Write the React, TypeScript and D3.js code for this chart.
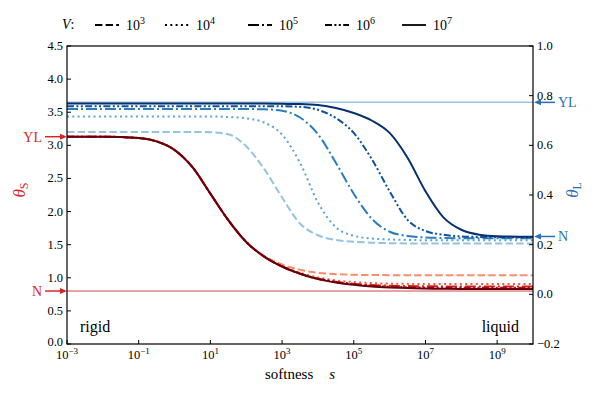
import * as d3 from 'd3'

// softness grid, as exponents of 10
const logS = [-3, -2, -1, -0.5, 0, 0.5, 1, 1.5, 2, 2.5, 3, 3.5, 4, 4.5, 5, 5.5, 6, 6.5, 7, 7.5, 8, 8.5, 9, 10]

const volumes = ['3', '4', '5', '6', '7']

// theta_S (left axis), one array per V
const thetaS_1e3 = [3.13, 3.13, 3.11, 3.06, 2.93, 2.67, 2.27, 1.87, 1.54, 1.33, 1.2, 1.12, 1.075, 1.055, 1.045, 1.042, 1.04, 1.04, 1.04, 1.04, 1.04, 1.04, 1.04, 1.04]
const thetaS_1e4 = [3.13, 3.13, 3.11, 3.06, 2.93, 2.67, 2.27, 1.87, 1.54, 1.32, 1.175, 1.075, 1.005, 0.96, 0.935, 0.92, 0.912, 0.908, 0.906, 0.905, 0.905, 0.905, 0.905, 0.905]
const thetaS_1e5 = [3.13, 3.13, 3.11, 3.06, 2.93, 2.67, 2.27, 1.87, 1.54, 1.32, 1.17, 1.065, 0.99, 0.94, 0.91, 0.89, 0.88, 0.875, 0.872, 0.87, 0.87, 0.87, 0.87, 0.87]
const thetaS_1e6 = [3.13, 3.13, 3.11, 3.06, 2.93, 2.67, 2.27, 1.87, 1.54, 1.32, 1.17, 1.06, 0.985, 0.935, 0.9, 0.88, 0.865, 0.857, 0.852, 0.85, 0.85, 0.85, 0.85, 0.85]
const thetaS_1e7 = [3.13, 3.13, 3.11, 3.06, 2.93, 2.67, 2.27, 1.87, 1.54, 1.32, 1.17, 1.06, 0.98, 0.93, 0.895, 0.87, 0.855, 0.845, 0.838, 0.834, 0.832, 0.83, 0.83, 0.83]

// theta_L (right axis)
const thetaL_1e3 = [0.654, 0.654, 0.654, 0.654, 0.654, 0.654, 0.653, 0.645, 0.596, 0.505, 0.39, 0.285, 0.238, 0.219, 0.212, 0.208, 0.206, 0.205, 0.205, 0.205, 0.205, 0.205, 0.205, 0.205]
const thetaL_1e4 = [0.716, 0.716, 0.716, 0.716, 0.716, 0.716, 0.716, 0.714, 0.709, 0.692, 0.643, 0.53, 0.37, 0.27, 0.236, 0.225, 0.221, 0.219, 0.218, 0.218, 0.218, 0.218, 0.218, 0.218]
const thetaL_1e5 = [0.746, 0.746, 0.746, 0.746, 0.746, 0.746, 0.746, 0.746, 0.746, 0.745, 0.739, 0.712, 0.645, 0.53, 0.405, 0.305, 0.252, 0.235, 0.229, 0.227, 0.226, 0.226, 0.226, 0.226]
const thetaL_1e6 = [0.757, 0.757, 0.757, 0.757, 0.757, 0.757, 0.757, 0.757, 0.757, 0.757, 0.757, 0.755, 0.743, 0.71, 0.65, 0.545, 0.415, 0.3, 0.255, 0.24, 0.233, 0.231, 0.23, 0.23]
const thetaL_1e7 = [0.768, 0.768, 0.768, 0.768, 0.768, 0.768, 0.768, 0.768, 0.768, 0.768, 0.767, 0.766, 0.762, 0.75, 0.73, 0.7, 0.65, 0.55, 0.415, 0.31, 0.26, 0.24, 0.234, 0.232]

const thetaS = [thetaS_1e3, thetaS_1e4, thetaS_1e5, thetaS_1e6, thetaS_1e7]
const thetaL = [thetaL_1e3, thetaL_1e4, thetaL_1e5, thetaL_1e6, thetaL_1e7]

const redColors = ['#fc8d6b', '#f4573e', '#d42020', '#a50f15', '#67000d']
const blueColors = ['#94c4df', '#5ba3d0', '#2d7dbb', '#0d529c', '#08306b']
const dashes = ['7.4,3.2', '2,3.3', '11,3,2,3', '7,2.4,2,2.4,2,2.4', '']

const leftTicks = [0, 0.5, 1, 1.5, 2, 2.5, 3, 3.5, 4, 4.5]
const rightTicks = [-0.2, 0, 0.2, 0.4, 0.6, 0.8, 1.0]
const xTickExps = [-3, -1, 1, 3, 5, 7, 9]

// reference levels
const YL_S = 3.13
const N_S = 0.8
const YL_L = 0.773
const N_L = 0.233

const font = '"Liberation Serif", "Times New Roman", "DejaVu Serif", "Noto Serif", Times, serif'
const red = '#d62728'
const blue = '#2b6fb6'

export default function App() {
  const m = { left: 67, right: 533, top: 46, bottom: 344 }
  const x = d3.scaleLog().domain([1e-3, 1e10]).range([m.left, m.right])
  const yS = d3.scaleLinear().domain([0, 4.5]).range([m.bottom, m.top])
  const yL = d3.scaleLinear().domain([-0.2, 1.0]).range([m.bottom, m.top])

  const lineS = d3
    .line<number>()
    .x((_, i) => x(Math.pow(10, logS[i])))
    .y((d) => yS(d))
    .curve(d3.curveMonotoneX)
  const lineL = d3
    .line<number>()
    .x((_, i) => x(Math.pow(10, logS[i])))
    .y((d) => yL(d))
    .curve(d3.curveMonotoneX)

  const arrow = (x1: number, x2: number, y: number, color: string) => {
    const dir = x2 > x1 ? 1 : -1
    return (
      <g>
        <line x1={x1} x2={x2 - dir * 5} y1={y} y2={y} stroke={color} strokeWidth={1.5} />
        <path d={`M${x2},${y} L${x2 - dir * 7},${y - 3} L${x2 - dir * 7},${y + 3} Z`} fill={color} />
      </g>
    )
  }

  const legendX = [95, 165, 248, 325, 402]

  return (
    <svg width={600} height={400} style={{ position: 'absolute', left: 0, top: 0, background: '#fff' }}>
      <defs>
        <style>{`text { font-family: ${font}; }`}</style>
        <clipPath id="plot">
          <rect x={m.left} y={m.top} width={m.right - m.left} height={m.bottom - m.top} />
        </clipPath>
      </defs>

      {/* legend */}
      <text x={62} y={29} fontSize={14}>
        <tspan fontStyle="italic">V</tspan>:
      </text>
      {volumes.map((v, i) => (
        <g key={v}>
          <line x1={legendX[i]} x2={legendX[i] + 24} y1={25} y2={25} stroke="#000" strokeWidth={1.8} strokeDasharray={dashes[i]} />
          <text x={legendX[i] + 31} y={30} fontSize={14}>
            10<tspan dy={-6} fontSize={10}>{v}</tspan>
          </text>
        </g>
      ))}

      <g clipPath="url(#plot)">
        <line x1={m.left} x2={m.right} y1={yL(YL_L)} y2={yL(YL_L)} stroke="#9cc3e3" strokeWidth={1.5} />
        <line x1={m.left} x2={m.right} y1={yS(N_S)} y2={yS(N_S)} stroke="#d0494a" strokeWidth={1} />
        {thetaL.map((s, i) => (
          <path key={'L' + i} d={lineL(s) ?? ''} fill="none" stroke={blueColors[i]} strokeWidth={2} strokeDasharray={dashes[i]} />
        ))}
        {thetaS.map((s, i) => (
          <path key={'S' + i} d={lineS(s) ?? ''} fill="none" stroke={redColors[i]} strokeWidth={2} strokeDasharray={dashes[i]} />
        ))}
      </g>

      {/* frame */}
      <rect x={m.left} y={m.top} width={m.right - m.left} height={m.bottom - m.top} fill="none" stroke="#000" strokeWidth={1.2} />

      {/* left axis */}
      {leftTicks.map((t) => (
        <g key={'l' + t}>
          <line x1={m.left} x2={m.left + 4} y1={yS(t)} y2={yS(t)} stroke="#000" />
          <text x={m.left - 4} y={yS(t) + (t === 0 ? 2 : 4)} fontSize={12.5} textAnchor="end">
            {t.toFixed(1)}
          </text>
        </g>
      ))}
      {/* right axis */}
      {rightTicks.map((t) => (
        <g key={'r' + t}>
          <line x1={m.right - 4} x2={m.right} y1={yL(t)} y2={yL(t)} stroke="#000" />
          <text x={m.right + 4} y={yL(t) + 4} fontSize={12.5}>
            {t < 0 ? '\u2212' + Math.abs(t).toFixed(1) : t.toFixed(1)}
          </text>
        </g>
      ))}
      {/* bottom axis */}
      {xTickExps.map((e) => (
        <g key={'x' + e}>
          <line x1={x(Math.pow(10, e))} x2={x(Math.pow(10, e))} y1={m.bottom} y2={m.bottom - 4} stroke="#000" />
          <text x={x(Math.pow(10, e))} y={359} fontSize={12.5} textAnchor="middle">
            10<tspan dy={-5} fontSize={9}>{e < 0 ? '\u2212' + Math.abs(e) : e}</tspan>
          </text>
        </g>
      ))}

      <text x={300} y={379} fontSize={15} textAnchor="middle">
        softness<tspan dx={16} fontStyle="italic">s</tspan>
      </text>

      {/* axis labels */}
      <text transform="translate(25,190) rotate(-90)" fontSize={17} textAnchor="middle" fill={red}>
        <tspan fontStyle="italic">θ</tspan>
        <tspan fontSize={12} dy={3}>S</tspan>
      </text>
      <text transform="translate(578,190) rotate(-90)" fontSize={17} textAnchor="middle" fill={blue}>
        <tspan fontStyle="italic">θ</tspan>
        <tspan fontSize={12} dy={3}>L</tspan>
      </text>

      {/* reference arrows */}
      {arrow(45, m.left, yS(YL_S), red)}
      <text x={42} y={yS(YL_S) + 5} fontSize={14} textAnchor="end" fill={red}>YL</text>
      {arrow(45, m.left, yS(N_S), red)}
      <text x={42} y={yS(N_S) + 5} fontSize={14} textAnchor="end" fill={red}>N</text>
      {arrow(555, m.right + 1, yL(YL_L), blue)}
      <text x={558} y={yL(YL_L) + 5} fontSize={14} fill={blue}>YL</text>
      {arrow(555, m.right + 1, yL(N_L), blue)}
      <text x={558} y={yL(N_L) + 5} fontSize={14} fill={blue}>N</text>

      <text x={80} y={332} fontSize={16}>rigid</text>
      <text x={519} y={332} fontSize={16} textAnchor="end">liquid</text>
    </svg>
  )
}
